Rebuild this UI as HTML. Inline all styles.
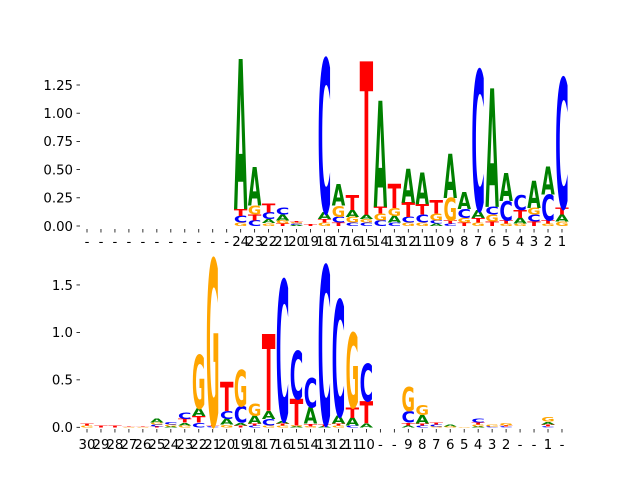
<!DOCTYPE html>
<html><head><meta charset="utf-8"><style>
html,body{margin:0;padding:0;background:#fff}
svg text{font-family:"DejaVu Sans","Liberation Sans",sans-serif}
</style></head><body>
<svg id="chart" width="640" height="480" xmlns="http://www.w3.org/2000/svg"></svg>
<script>
// Top logo: x tick labels and letter heights per position (A,C,G,T)
const topLabels = ['-','-','-','-','-','-','-','-','-','-','-','24','23','22','21','20','19','18','17','16','15','14','13','12','11','10','9','8','7','6','5','4','3','2','1'];
const topA = [0,0,0,0,0,0,0,0,0,0,0,1.33,0.34,0.035,0.05,0.01,0,0.06,0.19,0.06,0.04,0.94,0.06,0.30,0.28,0.02,0.39,0.15,0.07,1.05,0.25,0.05,0.24,0.25,0.06];
const topC = [0,0,0,0,0,0,0,0,0,0,0,0.06,0.05,0.06,0.06,0.01,0,1.36,0.05,0.03,0.03,0.05,0.03,0.05,0.07,0.03,0.02,0.08,1.24,0.07,0.17,0.13,0.06,0.23,1.15];
const topG = [0,0,0,0,0,0,0,0,0,0,0,0.03,0.08,0.025,0.03,0.01,0,0.03,0.10,0.05,0.03,0.06,0.07,0.03,0.03,0.06,0.20,0.04,0.03,0.06,0.02,0.02,0.06,0.02,0.04];
const topT = [0,0,0,0,0,0,0,0,0,0,0,0.06,0.05,0.08,0.02,0.01,0.015,0.03,0.03,0.13,1.36,0.06,0.21,0.13,0.09,0.12,0.03,0.03,0.04,0.04,0.03,0.07,0.04,0.03,0.06];
const topTicks = [0,0.25,0.5,0.75,1.0,1.25];
const topTickLabels = ['0.00','0.25','0.50','0.75','1.00','1.25'];
// Bottom logo
const botLabels = ['30','29','28','27','26','25','24','23','22','21','20','19','18','17','16','15','14','13','12','11','10','-','-','9','8','7','6','5','4','3','2','-','-','1','-'];
const botA = [0,0,0,0,0,0.04,0.01,0.03,0.08,0,0.06,0.03,0.08,0.08,0.03,0.01,0.17,0.01,0.08,0.08,0.04,0,0,0.02,0.09,0,0.02,0,0.01,0,0,0,0,0.03,0];
const botC = [0,0,0,0,0,0.02,0.03,0.07,0.05,0.01,0.08,0.17,0.02,0.07,1.48,0.51,0.31,1.67,1.22,0.02,0.40,0,0,0.12,0.02,0.02,0,0,0.04,0.01,0.01,0,0,0.01,0];
const botG = [0.02,0,0,0.005,0.005,0.02,0.02,0.02,0.56,1.75,0.03,0.38,0.13,0.02,0.02,0.01,0.01,0,0.02,0.79,0,0,0,0.25,0.10,0.01,0.01,0.005,0.02,0.02,0.03,0,0,0.05,0];
const botT = [0.02,0.02,0.02,0.005,0.005,0.01,0,0.04,0.07,0.01,0.31,0.02,0.02,0.81,0.02,0.28,0.03,0.02,0.02,0.11,0.23,0,0,0.03,0.02,0.02,0,0,0.02,0,0.01,0,0,0.02,0];
const botTicks = [0,0.5,1.0,1.5];
const botTickLabels = ['0.0','0.5','1.0','1.5'];

const NS='http://www.w3.org/2000/svg';
const svg=document.getElementById('chart');
const colors={A:'#008000',C:'#0000ff',G:'#ffa500',T:'#ff0000'};
function mk(tag,attrs,parent){const e=document.createElementNS(NS,tag);for(const k in attrs)e.setAttribute(k,attrs[k]);(parent||svg).appendChild(e);return e;}

function drawPanel(name,labels,A,C,G,T,ticks,tickLabels,y0,unit,tickY,labY){
  const g=mk('g',{});
  
  
  const xs=i=>87+i*13.97;
  const ys=v=>y0-v*unit;
  const w=13.5;
  ticks.forEach((t,k)=>{
    const tl=mk('line',{x1:76.5,x2:80,y1:ys(t),y2:ys(t),stroke:'#000','stroke-width':0.8},g);
    
    
    const tx=mk('text',{x:73,y:ys(t)+4.8,'text-anchor':'end','font-size':13.3,fill:'#000'},g);
    
    
    tx.textContent=tickLabels[k];
  });
  labels.forEach((lab,i)=>{
    const x=xs(i);
    const tl=mk('line',{x1:x,x2:x,y1:tickY,y2:tickY+3.5,stroke:'#000','stroke-width':0.8},g);
    
    
    const tx=mk('text',{x:x,y:labY,'text-anchor':'middle','font-size':13.3,fill:'#000'},g);
    
    
    tx.textContent=lab;
    const stack=[['A',A[i]],['C',C[i]],['G',G[i]],['T',T[i]]].filter(d=>d[1]>0).sort((a,b)=>a[1]-b[1]);
    let base=0;
    stack.forEach(([L,h])=>{
      const yb=ys(base), hp=h*unit;
      const t=mk('text',{x:0,y:0,'font-size':100,'font-weight':'bold',fill:colors[L],
        textLength:70,lengthAdjust:'spacingAndGlyphs',
        transform:`translate(${x-w/2},${yb}) scale(${w/70},${hp/72.9})`},g);
      
      
      t.textContent=L;
      base+=h;
    });
  });
}
drawPanel('top-logo',topLabels,topA,topC,topG,topT,topTicks,topTickLabels,226,112.8,229,246);
drawPanel('bottom-logo',botLabels,botA,botC,botG,botT,botTicks,botTickLabels,427.3,94.9,429,449);
</script>
</body></html>
